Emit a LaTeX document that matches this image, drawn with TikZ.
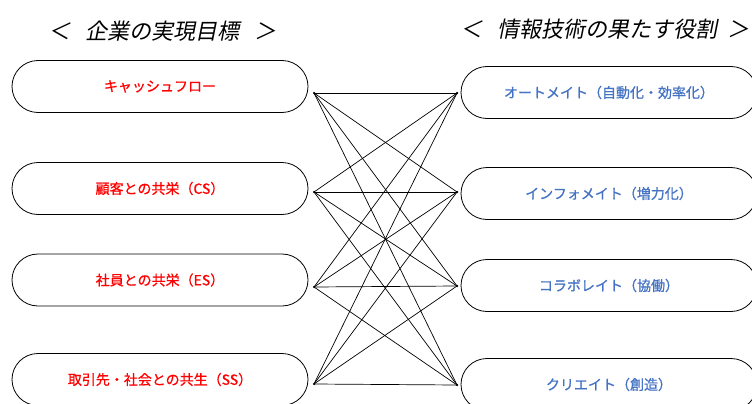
\documentclass[tikz,border=0pt]{standalone}
\usepackage{fontspec}
\newfontfamily\jp[FakeBold=0.8]{Noto Sans CJK JP}
\newfontfamily\jpit[FakeSlant=0.2]{Noto Sans CJK JP}
\definecolor{goalred}{RGB}{255,0,0}
\definecolor{itblue}{RGB}{68,114,196}
\begin{document}
\begin{tikzpicture}[x=1pt,y=-1pt,
  pill/.style={draw=black,line width=0.8pt,rounded corners=26pt,minimum width=296pt,minimum height=52pt,inner sep=0pt,font=\jp\fontsize{14}{16}\selectfont},
  goal/.style={pill,text=goalred},
  role/.style={pill,text=itblue},
  head/.style={font=\jpit\fontsize{22}{24}\selectfont,inner sep=0pt,anchor=west},
  link/.style={line width=0.7pt,black},
  endpt/.style={circle,fill=black,inner sep=0pt,minimum size=2.5pt}]
\clip (0,0) rectangle (752,404);
\fill[white] (0,0) rectangle (752,404);
\node[head] (h1) at (48,31) {＜\hspace{15pt}企業の実現目標\hspace{15pt}＞};
\node[head] (h2) at (460,29) {＜\hspace{15pt}情報技術の果たす役割\hspace{10pt}＞};
\node[goal] (L1) at (160,86.5) {キャッシュフロー};
\node[goal] (L2) at (160,188.5) {顧客との共栄（CS）};
\node[goal] (L3) at (160,280) {社員との共栄（ES）};
\node[goal] (L4) at (160,379.5) {取引先・社会との共生（SS）};
\node[role] (R1) at (609,92.5) {オートメイト（自動化・効率化）};
\node[role] (R2) at (609,193.5) {インフォメイト（増力化）};
\node[role] (R3) at (609,285.5) {コラボレイト（協働）};
\node[role] (R4) at (609,384.5) {クリエイト（創造）};
\coordinate (a1) at (314,93);
\coordinate (a2) at (314,192);
\coordinate (a3) at (314,287);
\coordinate (a4) at (314,384);
\coordinate (b1) at (457,93);
\coordinate (b2) at (457,192);
\coordinate (b3) at (457,286);
\coordinate (b4) at (457,385);
\foreach \i in {1,2,3,4}{
  \foreach \j in {1,2,3,4}{
    \draw[link] (a\i) -- (b\j);
  }
  \node[endpt] at (a\i) {};
  \node[endpt] at (b\i) {};
}
\end{tikzpicture}
\end{document}
